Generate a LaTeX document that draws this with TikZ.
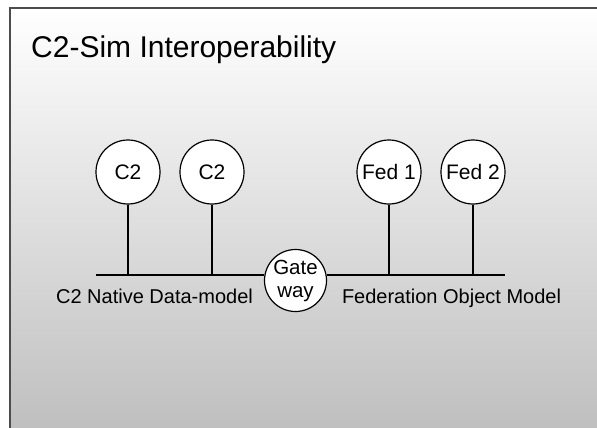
\documentclass[tikz,border=0pt]{standalone}
\usepackage{fontspec}
\setmainfont{Liberation Sans}
\usetikzlibrary{positioning,calc}
\tikzset{font=\fontsize{20}{23}\selectfont}

\begin{document}
\begin{tikzpicture}[x=1pt, y=-1pt]
	\useasboundingbox (0, 0) rectangle (597, 428);
	% slide background and frame
	\shade[top color=white, bottom color=black!25] (10, 8) rectangle (610, 428);
	\draw[black!70, line width=1.6pt] (10, 440) -- (10, 8) -- (610, 8);

	\node[anchor=base west, inner sep=0pt, font=\fontsize{30}{34}\selectfont] (title) at (31, 58) {C2-Sim Interoperability};

	\begin{scope}
		\tikzstyle{every node}=[align=center, inner sep=0pt]
		\tikzstyle{sys}=[circle, draw, fill=white, line width=1.2pt, minimum size=64pt, font=\fontsize{21}{23}\selectfont]
		\node[sys] (c2a) at (128, 172) {C2};
		\node[sys] (c2b) at (212, 172) {C2};
		\node[sys] (fed1) at (389, 172) {Fed 1};
		\node[sys] (fed2) at (473, 172) {Fed 2};

		\node[sys, minimum size=62pt, font=\fontsize{20.5}{23}\selectfont] (gate) at (295.5, 280.5) {Gate\\way};

		\coordinate (busl) at (96, 275);
		\coordinate (busr) at (505, 275);

		\node[anchor=base] (c2dm) at (154.5, 303) {C2 Native Data-model};
		\node[anchor=base] (fom) at (451.5, 303) {Federation Object Model};

		\draw[line width=1.2pt] (busl) -- (busl -| gate.west);
		\draw[line width=1.2pt] (busr -| gate.east) -- (busr);
		\draw[line width=1.2pt] (c2a) -- (c2a |- busl);
		\draw[line width=1.2pt] (c2b) -- (c2b |- busl);
		\draw[line width=1.2pt] (fed1) -- (fed1 |- busl);
		\draw[line width=1.2pt] (fed2) -- (fed2 |- busl);
	\end{scope}
\end{tikzpicture}
\end{document}
